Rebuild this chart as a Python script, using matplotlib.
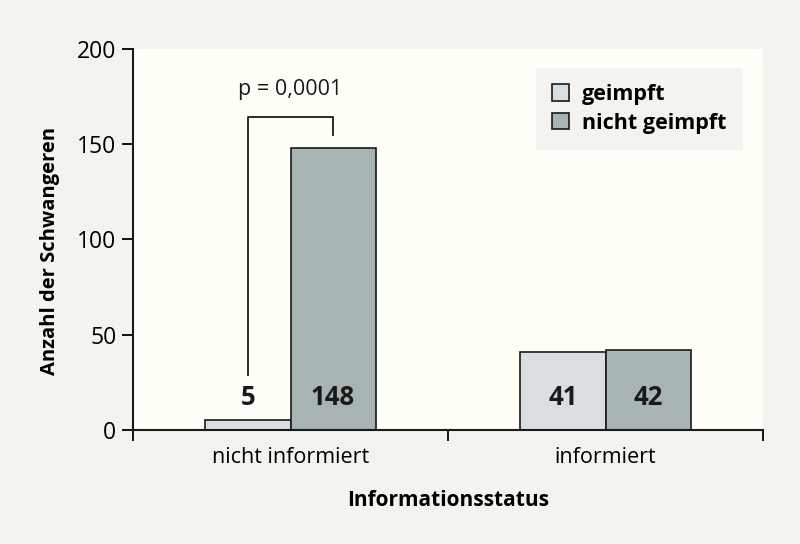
import numpy as np
import matplotlib
matplotlib.use("Agg")
from matplotlib import pyplot as plt
from matplotlib.patches import Patch

plt.rcParams['font.family'] = ['Open Sans', 'DejaVu Sans']

# Data
categories = ["nicht informiert", "informiert"]
series_names = ["geimpft", "nicht geimpft"]
geimpft = [5, 41]
nicht_geimpft = [148, 42]
p_text = "p = 0,0001"

col_geimpft = "#d9dfe0"
col_nicht = "#a8b4b3"
edge = "#1a1a1a"

fig = plt.figure(figsize=(8, 5.44), dpi=100)
fig.patch.set_facecolor("#f4f3f0")
ax = fig.add_axes([0.16625, 0.2096, 0.7875, 0.7003])
ax.set_facecolor("#fffff8")

x = np.arange(len(categories)) + 0.5
w = 0.27
ax.bar(x - w / 2, geimpft, w, color=col_geimpft, edgecolor=edge, linewidth=1.2)
ax.bar(x + w / 2, nicht_geimpft, w, color=col_nicht, edgecolor=edge, linewidth=1.2)

# value labels inside the bars
for xs, vals in [(x - w / 2, geimpft), (x + w / 2, nicht_geimpft)]:
    for xi, v in zip(xs, vals):
        ax.text(xi, 17, str(v), ha="center", va="center", fontsize=18.5,
                fontweight="bold", color="#1a1a1a")

# significance bracket
xl, xr = x[0] - w / 2, x[0] + w / 2
ax.plot([xl, xl, xr, xr], [29, 164.5, 164.5, 155], color=edge, lw=1.3)
ax.text(x[0], 179, p_text, ha="center", va="center", fontsize=15.5, color="#1a1a1a")

ax.set_xlim(0, 2)
ax.set_ylim(0, 200)
ax.set_yticks([0, 50, 100, 150, 200])
ax.set_xticks([0, 1, 2])
ax.set_xticklabels([])
ax.set_xticks(x, minor=True)
ax.set_xticklabels(categories, minor=True)
ax.tick_params(axis="x", which="minor", length=0, pad=12, labelsize=15.5)
ax.tick_params(axis="x", which="major", length=8, width=1.3, direction="out")
ax.tick_params(axis="y", length=8, width=1.3, labelsize=16.5, pad=4)
for s in ["top", "right"]:
    ax.spines[s].set_visible(False)
for s in ["left", "bottom"]:
    ax.spines[s].set_linewidth(1.5)
    ax.spines[s].set_color(edge)

ax.set_ylabel("Anzahl der Schwangeren", fontsize=14.5, fontweight="bold")
ax.yaxis.set_label_coords(-0.116, 0.47)
ax.set_xlabel("Informationsstatus", fontsize=15, fontweight="bold", labelpad=16)

handles = [Patch(facecolor=col_geimpft, edgecolor=edge, linewidth=1.2),
           Patch(facecolor=col_nicht, edgecolor=edge, linewidth=1.2)]
leg = ax.legend(handles, series_names, loc="upper right", bbox_to_anchor=(0.968, 0.95),
                borderaxespad=0, frameon=True, fancybox=False, facecolor="#f4f3f0",
                edgecolor="none", framealpha=1, handlelength=0.8, handleheight=0.8,
                handletextpad=0.6, borderpad=0.75, labelspacing=0.35,
                prop={"weight": "bold", "size": 15.5})

fig.savefig("out.png", dpi=100, facecolor=fig.get_facecolor())
